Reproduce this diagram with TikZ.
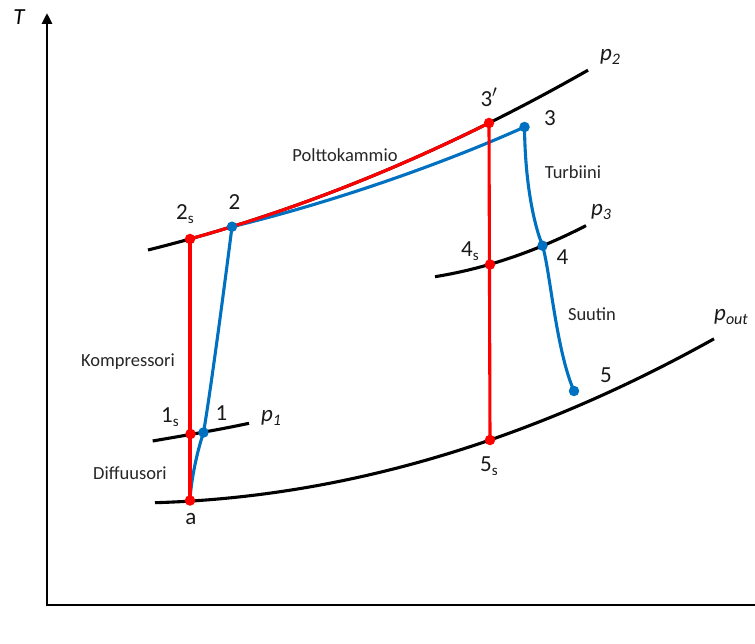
\documentclass[tikz,border=0pt]{standalone}
\usepackage{fontspec}
\setmainfont{Carlito}
\usetikzlibrary{arrows.meta}
\definecolor{rd}{RGB}{255,0,0}
\definecolor{bl}{RGB}{0,112,192}
\newcommand{\numsz}{\fontsize{23}{25}\selectfont}
\newcommand{\subsz}{\fontsize{15}{15}\selectfont}
\newcommand{\subs}[1]{\raisebox{-4pt}{\subsz #1}}
\newcommand{\pres}[1]{{\itshape p}\raisebox{-4pt}{\fontsize{16}{16}\selectfont\itshape #1}}
\begin{document}
\begin{tikzpicture}[x=1pt,y=-1pt,
  isobar/.style={black,line width=3.1pt},
  redline/.style={rd,line width=3.1pt},
  blueline/.style={bl,line width=3.1pt},
  rdot/.style={circle,fill=rd,inner sep=0pt,minimum size=10.5pt},
  bdot/.style={circle,fill=bl,inner sep=0pt,minimum size=10.5pt},
  num/.style={font=\numsz,text=black!90,inner sep=0pt},
  proc/.style={font=\fontsize{18.5}{20}\selectfont,text=black!85,inner sep=0pt},
  plab/.style={font=\fontsize{23}{25}\selectfont,text=black!90,inner sep=0pt}]
\useasboundingbox (0,0) rectangle (755,644);
% axes
\coordinate (orig) at (47,605);
\coordinate (xend) at (755,605);
\coordinate (yend) at (47,13);
\draw[line width=2.8pt,-{Triangle[width=10pt,length=11pt]}] (xend) -- (orig) -- (yend);
\node[font=\fontsize{23}{25}\selectfont\itshape,inner sep=0pt] (Tlab) at (19,17) {T};
% state points
\coordinate (a) at (190,500.5);
\coordinate (n1s) at (190.5,434);
\coordinate (n1) at (203.5,432.5);
\coordinate (n2s) at (190,239);
\coordinate (n2) at (232,226.7);
\coordinate (n3p) at (489,123);
\coordinate (n3) at (524.5,127);
\coordinate (n4s) at (490,264.5);
\coordinate (n4) at (542.5,245.7);
\coordinate (n5s) at (490,440);
\coordinate (n5) at (574,391);
% isobars
\draw[isobar] plot[domain=148:588,samples=60,smooth] (\x,{250-0.3724*(\x-148)-0.0003695*(\x-148)*(\x-489)});
\draw[isobar] plot[domain=435:586,samples=40,smooth] (\x,{276.7-0.2255*(\x-435)-0.00118*(\x-435)*(\x-490)});
\draw[isobar] plot[domain=155:714,samples=60,smooth] (\x,{502.7-0.1872*(\x-155)-0.000476*(\x-155)*(\x-490)});
\coordinate (p1a) at (152.7,441);
\coordinate (p1b) at (249,423.3);
\draw[isobar] (p1a) .. controls (190,434.5) and (215,430.5) .. (p1b);
% blue real process
\draw[blueline] (a) .. controls (191,480) and (197,452) .. (n1)
  .. controls (210,395) and (224,290) .. (n2);
\draw[blueline] (n2) .. controls (330,203) and (440,165) .. (n3);
\draw[blueline] (n3) .. controls (525,180) and (533,222) .. (n4)
  .. controls (550,270) and (556,350) .. (n5);
% red ideal process
\draw[redline] (a) -- (n2s);
\draw[redline] plot[domain=190:489,samples=40,smooth] (\x,{250-0.3724*(\x-148)-0.0003695*(\x-148)*(\x-489)});
\draw[redline] (n3p) -- (n5s);
% dots
\node[bdot] (d1) at (n1) {};
\node[bdot] (d2) at (n2) {};
\node[bdot] (d3) at (n3) {};
\node[bdot] (d4) at (n4) {};
\node[bdot] (d5) at (n5) {};
\node[rdot] (da) at (a) {};
\node[rdot] (d1s) at (n1s) {};
\node[rdot] (d2s) at (n2s) {};
\node[rdot] (d3p) at (n3p) {};
\node[rdot] (d4s) at (n4s) {};
\node[rdot] (d5s) at (n5s) {};
% point labels
\node[num] (l2s) at (185,214) {2\subs{s}};
\node[num] (l2) at (234.5,202) {2};
\node[num] (l3p) at (489,97) {3$'$};
\node[num] (l3) at (550,118) {3};
\node[num] (l4s) at (470,251) {4\subs{s}};
\node[num] (l4) at (562.5,257) {4};
\node[num] (l5) at (606,375) {5};
\node[num] (l5s) at (489,466) {5\subs{s}};
\node[num] (la) at (191,519) {a};
\node[num] (l1s) at (170,417) {1\subs{s}};
\node[num] (l1) at (221.5,413) {1};
% pressure labels
\node[plab] (pp1) at (271,418) {\pres{1}};
\node[plab] (pp2) at (610,57) {\pres{2}};
\node[plab] (pp3) at (601,212) {\pres{3}};
\node[plab] (ppout) at (731,317) {\pres{out}};
% process labels
\node[proc] (lpk) at (345,155) {Polttokammio};
\node[proc] (ltu) at (573,172) {Turbiini};
\node[proc] (lsu) at (592,314) {Suutin};
\node[proc] (lko) at (128,362) {Kompressori};
\node[proc] (ldi) at (130,473) {Diffuusori};
\end{tikzpicture}
\end{document}
